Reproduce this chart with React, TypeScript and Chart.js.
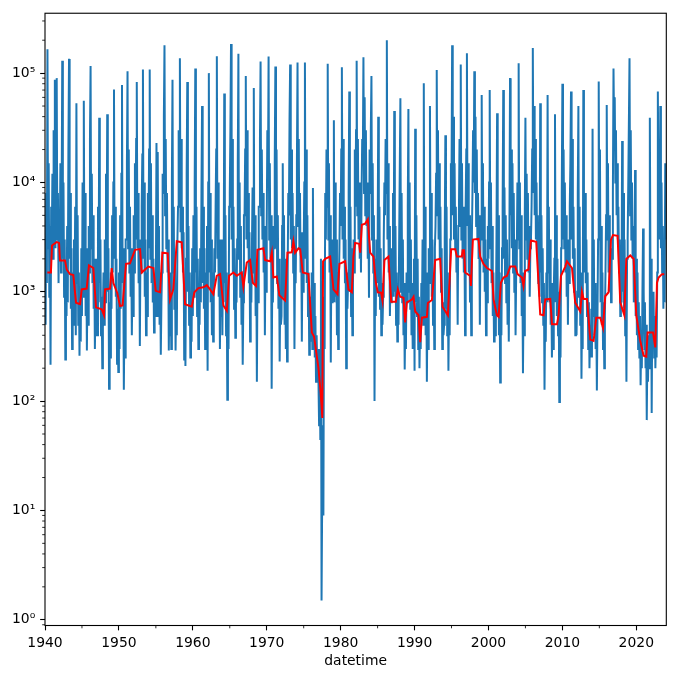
import React, { useEffect, useRef } from 'react';
import { Chart, registerables } from 'chart.js';

Chart.register(...registerables);

// ---- Blue series: flow, 12 samples per year (monthly) starting at 1940.0 ----
const flowStart = 1940;
const samplesPerYear = 12;

const flow1940s = [
  [2500, 500, 8000, 1200, 165000, 2500, 15000, 900, 4000, 215, 6000, 2500],
  [12000, 2000, 30000, 3000, 87000, 2500, 20000, 90000, 3000, 8000, 1200, 5000],
  [2500, 15000, 1500, 6000, 130000, 2000, 10000, 900, 3000, 240, 1500, 600],
  [4000, 800, 20000, 135000, 2000, 8000, 700, 2500, 300, 1500, 500, 3000],
  [800, 6000, 400, 53000, 1200, 5000, 500, 1500, 260, 900, 350, 2500],
  [600, 10000, 900, 56000, 1500, 8000, 600, 2500, 290, 1200, 500, 4000],
  [1500, 25000, 116000, 2500, 12000, 1200, 5000, 700, 2000, 300, 800, 400],
  [2000, 400, 6000, 800, 39000, 1200, 3000, 400, 900, 200, 700, 1500],
  [500, 3000, 800, 12000, 1500, 42000, 1000, 2500, 130, 800, 250, 1500],
  [700, 5000, 1500, 10000, 71000, 2000, 6000, 900, 2000, 220, 700, 185],
];
const flow1950s = [
  [1500, 300, 5000, 700, 12000, 78000, 1200, 2500, 127, 600, 250, 3000],
  [3000, 15000, 104000, 2500, 20000, 1500, 6000, 900, 2500, 400, 1500, 600],
  [5000, 1500, 15000, 3000, 25000, 83000, 2500, 8000, 1200, 3000, 320, 2500],
  [1500, 6000, 18000, 108000, 2000, 10000, 900, 3000, 400, 1500, 600, 8000],
  [2500, 20000, 108000, 2000, 15000, 1200, 5000, 800, 2000, 425, 1200, 600],
  [1200, 23000, 600, 19000, 1000, 4000, 500, 1500, 265, 800, 1500, 12000],
  [8000, 40000, 180000, 5000, 25000, 2500, 8000, 1500, 3000, 290, 1000, 400],
  [1500, 300, 10000, 87000, 1500, 6000, 700, 2000, 290, 1000, 400, 3000],
  [6000, 30000, 8000, 137000, 3500, 25000, 2500, 6000, 1500, 3500, 240, 1200],
  [210, 2000, 12000, 83000, 1000, 4000, 500, 1500, 250, 800, 350, 2500],
];
const flow1960s = [
  [600, 5000, 900, 9000, 110000, 1500, 6000, 600, 2000, 300, 1200, 500],
  [2500, 800, 8000, 50000, 1200, 6000, 700, 2500, 300, 1500, 600, 4000],
  [190, 10000, 100000, 1500, 8000, 800, 3000, 400, 1500, 350, 900, 2500],
  [1500, 6000, 20000, 143000, 2000, 10000, 900, 3000, 300, 1500, 600, 3000],
  [400, 3000, 800, 65000, 1200, 5000, 400, 1500, 103, 700, 300, 6000],
  [8000, 30000, 185000, 3000, 25000, 1500, 6000, 700, 2500, 380, 1500, 800],
  [3000, 15000, 150000, 2000, 10000, 900, 4000, 500, 1500, 215, 800, 5000],
  [5000, 20000, 94000, 3000, 30000, 2500, 8000, 1200, 3500, 350, 2000, 800],
  [800, 9000, 1500, 73000, 1200, 5000, 600, 2000, 150, 1500, 800, 6000],
  [6000, 25000, 128000, 5000, 20000, 3000, 8000, 1500, 4000, 400, 2500, 1000],
];
const flow1970s = [
  [4000, 30000, 10000, 142000, 3000, 15000, 2000, 5000, 130, 1500, 800, 4000],
  [2500, 15000, 115000, 2500, 20000, 1200, 5000, 700, 2000, 230, 1000, 500],
  [600, 4000, 15000, 900, 5000, 500, 2000, 300, 1000, 230, 1500, 8000],
  [5000, 37000, 120000, 3000, 20000, 2500, 8000, 1500, 4000, 300, 2500, 1200],
  [5000, 15000, 125000, 4000, 25000, 2500, 8000, 1500, 3500, 350, 2500, 1000],
  [2500, 10000, 125000, 2000, 20000, 1200, 5000, 600, 1500, 265, 900, 350],
  [500, 1500, 300, 8900, 400, 1200, 250, 600, 150, 400, 200, 300],
  [150, 60, 300, 45, 2000, 1.5, 12, 60, 9, 900, 300, 8000],
  [3000, 20000, 6000, 122000, 3000, 15000, 1500, 5000, 225, 2500, 800, 3000],
  [1000, 37000, 800, 10000, 900, 3000, 400, 1500, 300, 1200, 2500, 8000],
];
const flow1980s = [
  [4000, 20000, 113000, 3000, 25000, 2000, 6000, 1200, 3000, 200, 1500, 700],
  [1200, 8000, 68000, 1000, 6000, 600, 2500, 400, 1200, 3000, 1500, 20000],
  [6000, 30000, 130000, 5000, 25000, 3000, 10000, 2000, 5000, 1500, 8000, 25000],
  [15000, 140000, 8000, 60000, 5000, 30000, 4000, 10000, 2000, 6000, 880, 20000],
  [8000, 30000, 94000, 3000, 15000, 1500, 5000, 100, 2000, 600, 3000, 1200],
  [2000, 40000, 900, 6000, 700, 2500, 400, 1200, 500, 900, 3000, 10000],
  [5000, 25000, 8000, 200000, 3000, 15000, 1500, 4000, 600, 1500, 800, 2500],
  [1200, 8000, 900, 45000, 1000, 4000, 500, 1500, 350, 1200, 500, 3000],
  [3000, 59000, 1000, 8000, 800, 3000, 400, 1200, 195, 600, 300, 1500],
  [800, 6000, 47000, 1000, 10000, 700, 3000, 400, 1200, 300, 900, 2000],
];
const flow1990s = [
  [190, 31000, 800, 5000, 600, 2000, 300, 900, 200, 500, 300, 1200],
  [600, 3000, 500, 81000, 900, 6000, 400, 1500, 150, 800, 300, 2500],
  [1200, 50000, 2000, 8000, 900, 3000, 500, 1500, 300, 2500, 4000, 12000],
  [107000, 5000, 30000, 3000, 15000, 2000, 6000, 1000, 2500, 300, 800, 400],
  [500, 3000, 27000, 700, 6000, 400, 1500, 190, 800, 400, 3000, 15000],
  [10000, 180000, 5000, 40000, 3000, 15000, 2500, 6000, 1500, 3000, 500, 4000],
  [5000, 25000, 4000, 120000, 3000, 15000, 2000, 6000, 1500, 3000, 400, 6000],
  [20000, 152000, 4000, 15000, 1500, 5000, 800, 2500, 400, 3000, 8000, 30000],
  [10000, 104000, 8000, 40000, 4000, 20000, 3000, 8000, 2000, 5000, 500, 3000],
  [3000, 63000, 3000, 15000, 1500, 6000, 1000, 3000, 400, 2000, 800, 4000],
];
const flow2000s = [
  [2000, 10000, 70000, 2500, 10000, 1200, 4000, 600, 1500, 350, 800, 400],
  [500, 3000, 43000, 600, 5000, 400, 1500, 148, 800, 400, 2500, 6000],
  [70000, 2000, 9000, 1200, 5000, 800, 3000, 500, 1500, 350, 3000, 90000],
  [5000, 20000, 2500, 15000, 1500, 8000, 1000, 3000, 400, 1500, 2000, 10000],
  [3000, 123000, 2500, 10000, 1200, 5000, 600, 1500, 180, 900, 400, 5000],
  [39000, 3000, 12000, 2000, 8000, 1500, 4000, 900, 2500, 3000, 6000, 20000],
  [170000, 8000, 50000, 5000, 25000, 3000, 10000, 2500, 5000, 1200, 3000, 900],
  [53000, 1500, 5000, 800, 2500, 500, 1200, 127, 700, 350, 1500, 800],
  [63000, 1500, 6000, 800, 3000, 500, 1200, 250, 700, 300, 1000, 2000],
  [42000, 800, 5000, 600, 2000, 400, 1000, 98, 600, 250, 2500, 8000],
];
const flow2010s = [
  [80000, 3000, 20000, 2500, 10000, 1500, 5000, 900, 2500, 500, 3000, 1200],
  [6000, 15000, 68000, 3000, 25000, 2000, 6000, 1000, 2500, 400, 800, 400],
  [1000, 8000, 50000, 900, 6000, 500, 1500, 160, 800, 300, 70000, 1500],
  [2500, 8000, 1200, 3000, 600, 1500, 300, 800, 200, 500, 250, 700],
  [250, 31000, 600, 3000, 400, 1200, 300, 700, 125, 600, 3000, 84000],
  [3000, 20000, 800, 4000, 500, 1500, 300, 800, 200, 600, 1500, 5000],
  [51000, 3000, 15000, 1500, 5000, 1000, 3000, 800, 2500, 2000, 8000, 110000],
  [30000, 60000, 10000, 30000, 5000, 15000, 3000, 6000, 1500, 3000, 600, 2000],
  [800, 24000, 1000, 8000, 700, 3000, 400, 1000, 150, 2000, 3000, 10000],
  [10000, 137000, 5000, 30000, 3000, 10000, 2000, 4000, 800, 1500, 13000, 600],
];
const flow2020s = [
  [2000, 400, 1500, 300, 800, 250, 600, 140, 400, 200, 1000, 3800],
  [1000, 300, 800, 200, 500, 67, 300, 150, 400, 200, 39000, 1500],
  [2000, 78, 800, 300, 1000, 250, 600, 200, 400, 250, 1500, 68000],
  [8000, 20000, 3000, 50000, 2500, 10000, 1500, 4000, 700, 2000, 800, 15000],
  [3000],
];

// ---- Red series: rolling median ----
const medianYears = [
  1940.31, 1940.8, 1940.95, 1941.58, 1941.9, 1942.03, 1942.71, 1942.93, 1943.38, 1943.83, 1944.2, 1944.74, 1944.97, 1945.64, 1945.95, 1946.54, 1946.9, 1947.67, 1947.99, 1948.12, 1948.8, 1949.03, 1949.25, 1949.79,
  1950.15, 1950.5, 1950.96, 1951.5, 1952.18, 1952.86, 1953.08, 1953.54, 1953.99, 1954.66, 1954.98, 1955.57, 1955.88, 1956.6, 1956.92, 1957.37, 1957.83, 1958.5, 1958.95, 1959.86,
  1960.21, 1960.75, 1961.43, 1961.89, 1962.33, 1962.78, 1963.23, 1963.69, 1964.14, 1964.6, 1964.91, 1965.49, 1965.95, 1966.62, 1966.84, 1967.3, 1967.75, 1968.11, 1968.56, 1968.74, 1969.55, 1969.78,
  1970.46, 1970.69, 1970.9, 1971.36, 1971.71, 1972.49, 1972.8, 1973.39, 1973.61, 1973.84, 1974.29, 1974.52, 1974.88, 1975.64, 1976.1, 1976.4, 1977.0, 1977.3, 1977.52, 1977.62, 1977.9, 1978.58, 1979.03, 1979.57, 1979.84,
  1980.61, 1981.06, 1981.51, 1981.73, 1981.96, 1982.5, 1982.64, 1982.87, 1983.32, 1983.68, 1983.99, 1984.44, 1984.76, 1985.03, 1985.48, 1985.66, 1985.93, 1986.47, 1986.84, 1987.47, 1987.74, 1988.05, 1988.5, 1988.73, 1988.96, 1989.64, 1989.86,
  1990.09, 1990.54, 1990.76, 1990.99, 1991.67, 1991.8, 1992.35, 1992.79, 1993.47, 1993.78, 1994.51, 1994.95, 1995.5, 1995.73, 1996.4, 1996.5, 1996.7, 1996.85, 1997.53, 1997.62, 1997.89, 1998.65, 1998.88, 1999.33, 1999.79,
  2000.47, 2000.69, 2001.14, 2001.37, 2001.68, 2002.04, 2002.5, 2002.94, 2003.62, 2003.93, 2004.53, 2004.74, 2004.97, 2005.42, 2005.74, 2006.46, 2006.77, 2007.0, 2007.45, 2007.68, 2008.36, 2008.59, 2009.27, 2009.49, 2009.81,
  2010.39, 2010.62, 2011.3, 2011.74, 2012.42, 2012.65, 2012.87, 2013.33, 2013.77, 2014.22, 2014.59, 2015.13, 2015.49, 2015.8, 2016.25, 2016.57, 2016.85, 2017.47, 2017.83, 2018.38, 2018.65, 2019.19, 2019.64,
  2020.0, 2020.54, 2020.99, 2021.35, 2021.53, 2022.26, 2022.57, 2022.8, 2023.02, 2023.48, 2023.79,
];
const medianValues = [
  1500, 1500, 2650, 2850, 2800, 1930, 1930, 1600, 1450, 1420, 795, 770, 1050, 1070, 1740, 1650, 720, 690, 610, 1050, 1070, 1650, 1200, 970,
  740, 750, 1800, 1820, 2420, 2460, 1500, 1600, 1700, 1650, 1020, 990, 2280, 2250, 850, 1060, 2900, 2830, 770, 730,
  990, 1080, 1100, 1150, 1050, 950, 1400, 1450, 750, 670, 1400, 1500, 1400, 1500, 1110, 1850, 1950, 1210, 1130, 2420, 2500, 1950,
  1900, 2280, 1350, 1380, 930, 830, 2280, 2300, 2900, 2280, 2500, 2450, 1500, 1450, 425, 390, 200, 118, 70, 1900, 2000, 2100, 1050, 950, 1800,
  1900, 1050, 990, 2100, 2800, 2750, 2280, 4100, 4200, 4600, 2280, 2100, 1210, 990, 980, 830, 1950, 2100, 810, 810, 1050, 900, 880, 525, 800, 850, 900,
  660, 610, 345, 580, 590, 790, 840, 1950, 2000, 730, 610, 2450, 2450, 2100, 2100, 2400, 2400, 1500, 1400, 1130, 3000, 3050, 2100, 1800, 1650,
  1550, 850, 610, 590, 1210, 1350, 1400, 1700, 1700, 1450, 1350, 1130, 1550, 1600, 2950, 2870, 1210, 620, 610, 850, 860, 505, 505, 610, 1400,
  1700, 1900, 1650, 795, 660, 1000, 860, 860, 365, 355, 580, 580, 470, 910, 990, 3000, 3300, 3250, 800, 610, 2000, 2150, 2000,
  610, 355, 260, 255, 425, 425, 310, 1210, 1350, 1450, 1450,
];

// ---- Axes ----
const xMin = 1940;
const xMax = 2024.06;
const yMin = 0.886;
const yMax = 353000;
const xMajorTicks = [1940, 1950, 1960, 1970, 1980, 1990, 2000, 2010, 2020];
const xMinorTicks = [1945, 1955, 1965, 1975, 1985, 1995, 2005, 2015];
const yMajorTicks = [1, 10, 100, 1000, 10000, 100000];
const superscripts = ['⁰', '¹', '²', '³', '⁴', '⁵', '⁶'];

const FONT = "'DejaVu Sans', sans-serif";

const framePlugin = {
  id: 'frame',
  afterDraw(chart: any) {
    const { ctx, chartArea: a, scales } = chart;
    const xs = scales.x;
    const ys = scales.y;
    ctx.save();
    ctx.strokeStyle = '#000';
    ctx.lineWidth = 0.83;
    ctx.beginPath();
    for (let d = -1; d <= 6; d++) {
      for (let k = 2; k <= 9; k++) {
        const v = k * Math.pow(10, d);
        if (v < yMin || v > yMax) continue;
        const py = ys.getPixelForValue(v);
        ctx.moveTo(a.left, py);
        ctx.lineTo(a.left - 2.8, py);
      }
    }
    for (const t of xMinorTicks) {
      const px = xs.getPixelForValue(t);
      ctx.moveTo(px, a.bottom);
      ctx.lineTo(px, a.bottom + 2.8);
    }
    ctx.stroke();
    ctx.lineWidth = 1.1;
    ctx.strokeRect(a.left, a.top, a.right - a.left, a.bottom - a.top);
    ctx.restore();
  },
};

export default function App() {
  const canvasRef = useRef<HTMLCanvasElement | null>(null);

  useEffect(() => {
    const canvas = canvasRef.current;
    if (!canvas) return;

    const allFlow: number[] = ([] as number[][])
      .concat(flow1940s, flow1950s, flow1960s, flow1970s, flow1980s, flow1990s, flow2000s, flow2010s, flow2020s)
      .flat();
    const flowPoints = allFlow.map((v, i) => ({ x: flowStart + i / samplesPerYear, y: v }));
    const medianPoints = medianYears.map((t, i) => ({ x: t, y: medianValues[i] }));

    const chart = new Chart(canvas, {
      type: 'line',
      data: {
        datasets: [
          {
            data: flowPoints,
            borderColor: '#1f77b4',
            borderWidth: 2,
            pointRadius: 0,
            tension: 0,
            fill: false,
            order: 2,
          },
          {
            data: medianPoints,
            borderColor: '#ff0000',
            borderWidth: 2,
            pointRadius: 0,
            tension: 0,
            fill: false,
            order: 1,
          },
        ],
      },
      options: {
        animation: false,
        responsive: true,
        maintainAspectRatio: false,
        devicePixelRatio: 1,
        layout: { padding: { left: 0, top: 9.5, right: 8.7, bottom: 0 } },
        plugins: {
          legend: { display: false },
          tooltip: { enabled: false },
        },
        scales: {
          x: {
            type: 'linear',
            min: xMin,
            max: xMax,
            border: { display: false },
            grid: {
              display: true,
              drawOnChartArea: false,
              drawTicks: true,
              tickLength: 4.86,
              tickWidth: 1.1,
              tickColor: '#000',
            },
            afterBuildTicks: (scale: any) => {
              scale.ticks = xMajorTicks.map((v) => ({ value: v }));
            },
            afterFit: (scale: any) => {
              scale.height = 53.5;
            },
            ticks: {
              autoSkip: false,
              maxRotation: 0,
              padding: 4.9,
              color: '#000',
              font: { family: FONT, size: 13.9 },
              callback: (v: any) => String(v),
            },
            title: {
              display: true,
              text: 'datetime',
              color: '#000',
              font: { family: FONT, size: 13.9 },
              padding: { top: 0, bottom: 9.7 },
            },
          },
          y: {
            type: 'logarithmic',
            min: yMin,
            max: yMax,
            border: { display: false },
            grid: {
              display: true,
              drawOnChartArea: false,
              drawTicks: true,
              tickLength: 4.86,
              tickWidth: 1.1,
              tickColor: '#000',
            },
            afterBuildTicks: (scale: any) => {
              scale.ticks = yMajorTicks.map((v) => ({ value: v }));
            },
            afterFit: (scale: any) => {
              scale.width = 45;
            },
            ticks: {
              autoSkip: false,
              padding: 4.9,
              color: '#000',
              font: { family: FONT, size: 13.9 },
              callback: (v: any) => '10' + superscripts[Math.round(Math.log10(Number(v)))],
            },
          },
        },
      },
      plugins: [framePlugin],
    } as any);

    return () => {
      chart.destroy();
    };
  }, []);

  return (
    <div style={{ position: 'absolute', left: 0, top: 0, width: '675px', height: '679px', background: '#fff' }}>
      <canvas ref={canvasRef} />
    </div>
  );
}
